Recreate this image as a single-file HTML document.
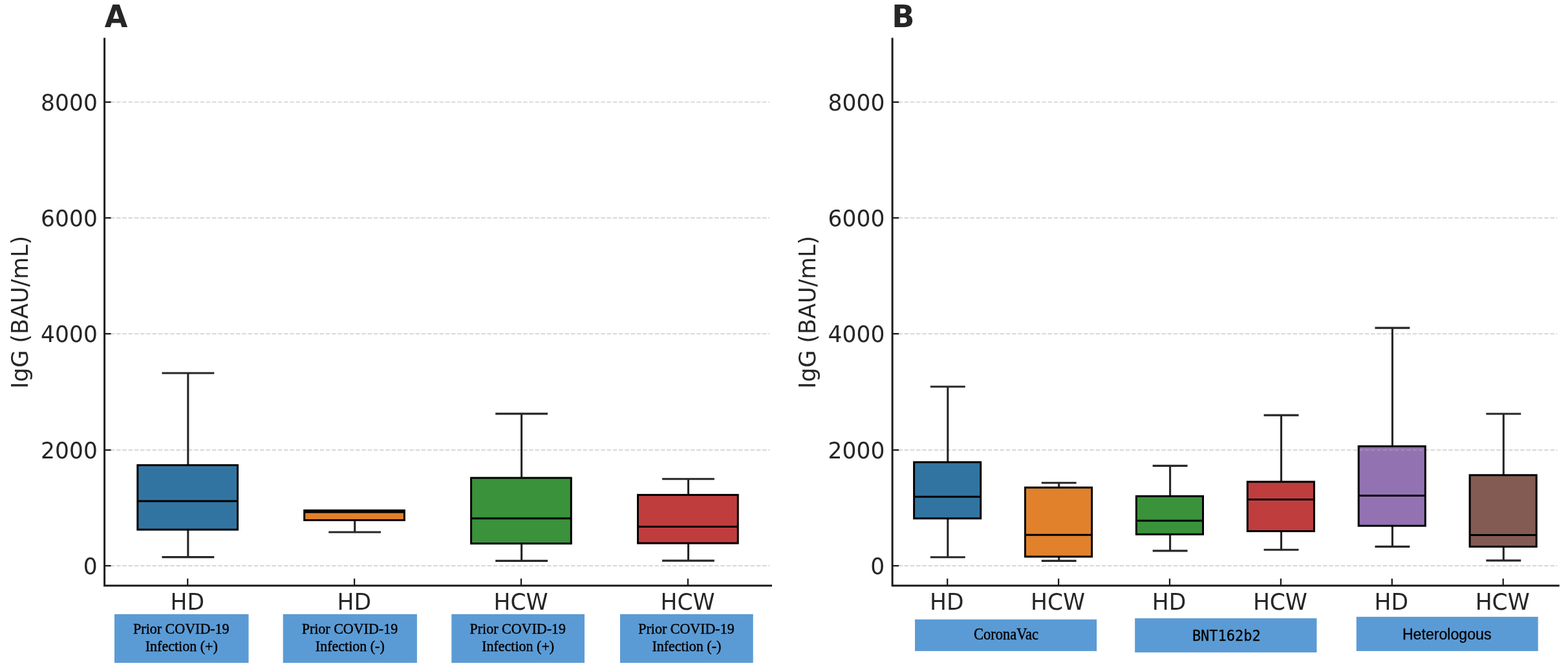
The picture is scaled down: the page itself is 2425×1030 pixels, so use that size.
<!DOCTYPE html>
<html lang="en"><head><meta charset="utf-8"><title>IgG (BAU/mL) box plots</title>
<style>html,body{margin:0;padding:0;background:#fff}body{width:2425px;height:1030px;overflow:hidden}svg{display:block}.t{font-family:"DejaVu Sans","Liberation Sans",sans-serif;fill:#262626}.s{font-family:"Liberation Serif","DejaVu Serif",serif;fill:#000}.n{font-family:"Liberation Sans","DejaVu Sans",sans-serif;fill:#000}.m{font-family:"DejaVu Sans Mono","Liberation Mono",monospace;fill:#000}</style></head><body>
<svg width="2425" height="1030" viewBox="0 0 2425 1030">
<rect width="2425" height="1030" fill="#fff"/>
<rect x="212.8" y="719.4" width="154.7" height="99.7" fill="#3274a1"/>
<rect x="470.7" y="789.4" width="154.7" height="15.1" fill="#e1812c"/>
<rect x="728.6" y="739.1" width="154.7" height="101.5" fill="#3a923a"/>
<rect x="986.5" y="765.4" width="154.7" height="74.7" fill="#c03d3e"/>
<line x1="161.6" y1="875.0" x2="1190.5" y2="875.0" stroke="#b0b0b0" stroke-opacity="0.5" stroke-width="1.9" stroke-dasharray="6.4 2.85"/>
<line x1="161.6" y1="696.0" x2="1190.5" y2="696.0" stroke="#b0b0b0" stroke-opacity="0.5" stroke-width="1.9" stroke-dasharray="6.4 2.85"/>
<line x1="161.6" y1="516.2" x2="1190.5" y2="516.2" stroke="#b0b0b0" stroke-opacity="0.5" stroke-width="1.9" stroke-dasharray="6.4 2.85"/>
<line x1="161.6" y1="337.0" x2="1190.5" y2="337.0" stroke="#b0b0b0" stroke-opacity="0.5" stroke-width="1.9" stroke-dasharray="6.4 2.85"/>
<line x1="161.6" y1="157.9" x2="1190.5" y2="157.9" stroke="#b0b0b0" stroke-opacity="0.5" stroke-width="1.9" stroke-dasharray="6.4 2.85"/>
<path d="M290.8 719.4V577.0" stroke="#262626" stroke-width="3.1" fill="none"/>
<path d="M252.0 577.0H329.7" stroke="#262626" stroke-width="3.1" fill="none" stroke-linecap="square"/>
<path d="M290.8 819.1V861.6" stroke="#262626" stroke-width="3.1" fill="none"/>
<path d="M252.0 861.6H329.7" stroke="#262626" stroke-width="3.1" fill="none" stroke-linecap="square"/>
<rect x="212.8" y="719.4" width="154.7" height="99.7" fill="none" stroke="#000" stroke-width="3"/>
<line x1="212.8" y1="774.9" x2="367.6" y2="774.9" stroke="#000" stroke-width="3"/>
<path d="M548.7 804.5V823.0" stroke="#262626" stroke-width="3.1" fill="none"/>
<path d="M509.8 823.0H587.5" stroke="#262626" stroke-width="3.1" fill="none" stroke-linecap="square"/>
<rect x="470.7" y="789.4" width="154.7" height="15.1" fill="none" stroke="#000" stroke-width="3"/>
<line x1="470.7" y1="792.0" x2="625.5" y2="792.0" stroke="#000" stroke-width="3"/>
<path d="M806.6 739.1V639.9" stroke="#262626" stroke-width="3.1" fill="none"/>
<path d="M767.8 639.9H845.5" stroke="#262626" stroke-width="3.1" fill="none" stroke-linecap="square"/>
<path d="M806.6 840.6V867.4" stroke="#262626" stroke-width="3.1" fill="none"/>
<path d="M767.8 867.4H845.5" stroke="#262626" stroke-width="3.1" fill="none" stroke-linecap="square"/>
<rect x="728.6" y="739.1" width="154.7" height="101.5" fill="none" stroke="#000" stroke-width="3"/>
<line x1="728.6" y1="801.7" x2="883.4" y2="801.7" stroke="#000" stroke-width="3"/>
<path d="M1064.5 765.4V740.8" stroke="#262626" stroke-width="3.1" fill="none"/>
<path d="M1025.6 740.8H1103.3" stroke="#262626" stroke-width="3.1" fill="none" stroke-linecap="square"/>
<path d="M1064.5 840.1V867.1" stroke="#262626" stroke-width="3.1" fill="none"/>
<path d="M1025.6 867.1H1103.3" stroke="#262626" stroke-width="3.1" fill="none" stroke-linecap="square"/>
<rect x="986.5" y="765.4" width="154.7" height="74.7" fill="none" stroke="#000" stroke-width="3"/>
<line x1="986.5" y1="814.5" x2="1141.3" y2="814.5" stroke="#000" stroke-width="3"/>
<line x1="161.6" y1="875.0" x2="171.6" y2="875.0" stroke="#1c1c1c" stroke-width="2.3"/>
<text class="t" transform="translate(150.8 887.9) scale(0.985 1)" font-size="35" text-anchor="end">0</text>
<line x1="161.6" y1="696.0" x2="171.6" y2="696.0" stroke="#1c1c1c" stroke-width="2.3"/>
<text class="t" transform="translate(150.8 708.9) scale(0.985 1)" font-size="35" text-anchor="end">2000</text>
<line x1="161.6" y1="516.2" x2="171.6" y2="516.2" stroke="#1c1c1c" stroke-width="2.3"/>
<text class="t" transform="translate(150.8 529.1) scale(0.985 1)" font-size="35" text-anchor="end">4000</text>
<line x1="161.6" y1="337.0" x2="171.6" y2="337.0" stroke="#1c1c1c" stroke-width="2.3"/>
<text class="t" transform="translate(150.8 349.9) scale(0.985 1)" font-size="35" text-anchor="end">6000</text>
<line x1="161.6" y1="157.9" x2="171.6" y2="157.9" stroke="#1c1c1c" stroke-width="2.3"/>
<text class="t" transform="translate(150.8 170.8) scale(0.985 1)" font-size="35" text-anchor="end">8000</text>
<line x1="290.2" y1="905.8" x2="290.2" y2="894.8" stroke="#1c1c1c" stroke-width="2.3"/>
<text class="t" transform="translate(289.8 943.3) scale(0.985 1)" font-size="35" text-anchor="middle">HD</text>
<line x1="548.1" y1="905.8" x2="548.1" y2="894.8" stroke="#1c1c1c" stroke-width="2.3"/>
<text class="t" transform="translate(547.7 943.3) scale(0.985 1)" font-size="35" text-anchor="middle">HD</text>
<line x1="806.0" y1="905.8" x2="806.0" y2="894.8" stroke="#1c1c1c" stroke-width="2.3"/>
<text class="t" transform="translate(805.6 943.3) scale(0.985 1)" font-size="35" text-anchor="middle">HCW</text>
<line x1="1063.9" y1="905.8" x2="1063.9" y2="894.8" stroke="#1c1c1c" stroke-width="2.3"/>
<text class="t" transform="translate(1063.5 943.3) scale(0.985 1)" font-size="35" text-anchor="middle">HCW</text>
<path d="M161.6 60.1V905.8H1192.5" stroke="#1c1c1c" stroke-width="3" fill="none" stroke-linecap="square"/>
<text class="t" transform="translate(161.8 42.2) scale(0.96 1)" font-size="48" font-weight="bold">A</text>
<text class="t" transform="translate(42.7 482.9) rotate(-90)" font-size="34.9" text-anchor="middle">IgG (BAU/mL)</text>
<rect x="1413.6" y="714.8" width="103.1" height="87.0" fill="#3274a1"/>
<rect x="1585.5" y="754.0" width="103.1" height="106.9" fill="#e1812c"/>
<rect x="1757.4" y="767.4" width="103.1" height="59.0" fill="#3a923a"/>
<rect x="1929.3" y="745.1" width="103.1" height="76.4" fill="#c03d3e"/>
<rect x="2101.2" y="690.2" width="103.1" height="123.0" fill="#9372b2"/>
<rect x="2273.1" y="734.8" width="103.1" height="110.6" fill="#845b53"/>
<line x1="1380.1" y1="875.0" x2="2408.3" y2="875.0" stroke="#b0b0b0" stroke-opacity="0.5" stroke-width="1.9" stroke-dasharray="6.4 2.85"/>
<line x1="1380.1" y1="696.0" x2="2408.3" y2="696.0" stroke="#b0b0b0" stroke-opacity="0.5" stroke-width="1.9" stroke-dasharray="6.4 2.85"/>
<line x1="1380.1" y1="516.2" x2="2408.3" y2="516.2" stroke="#b0b0b0" stroke-opacity="0.5" stroke-width="1.9" stroke-dasharray="6.4 2.85"/>
<line x1="1380.1" y1="337.0" x2="2408.3" y2="337.0" stroke="#b0b0b0" stroke-opacity="0.5" stroke-width="1.9" stroke-dasharray="6.4 2.85"/>
<line x1="1380.1" y1="157.9" x2="2408.3" y2="157.9" stroke="#b0b0b0" stroke-opacity="0.5" stroke-width="1.9" stroke-dasharray="6.4 2.85"/>
<path d="M1465.8 714.8V598.0" stroke="#262626" stroke-width="3.1" fill="none"/>
<path d="M1440.4 598.0H1491.2" stroke="#262626" stroke-width="3.1" fill="none" stroke-linecap="square"/>
<path d="M1465.8 801.8V861.8" stroke="#262626" stroke-width="3.1" fill="none"/>
<path d="M1440.4 861.8H1491.2" stroke="#262626" stroke-width="3.1" fill="none" stroke-linecap="square"/>
<rect x="1413.6" y="714.8" width="103.1" height="87.0" fill="none" stroke="#000" stroke-width="3"/>
<line x1="1413.6" y1="768.3" x2="1516.8" y2="768.3" stroke="#000" stroke-width="3"/>
<path d="M1637.7 754.0V746.8" stroke="#262626" stroke-width="3.1" fill="none"/>
<path d="M1612.3 746.8H1663.1" stroke="#262626" stroke-width="3.1" fill="none" stroke-linecap="square"/>
<path d="M1637.7 860.9V867.4" stroke="#262626" stroke-width="3.1" fill="none"/>
<path d="M1612.3 867.4H1663.1" stroke="#262626" stroke-width="3.1" fill="none" stroke-linecap="square"/>
<rect x="1585.5" y="754.0" width="103.1" height="106.9" fill="none" stroke="#000" stroke-width="3"/>
<line x1="1585.5" y1="827.3" x2="1688.7" y2="827.3" stroke="#000" stroke-width="3"/>
<path d="M1809.6 767.4V720.4" stroke="#262626" stroke-width="3.1" fill="none"/>
<path d="M1784.2 720.4H1835.0" stroke="#262626" stroke-width="3.1" fill="none" stroke-linecap="square"/>
<path d="M1809.6 826.4V851.9" stroke="#262626" stroke-width="3.1" fill="none"/>
<path d="M1784.2 851.9H1835.0" stroke="#262626" stroke-width="3.1" fill="none" stroke-linecap="square"/>
<rect x="1757.4" y="767.4" width="103.1" height="59.0" fill="none" stroke="#000" stroke-width="3"/>
<line x1="1757.4" y1="805.2" x2="1860.6" y2="805.2" stroke="#000" stroke-width="3"/>
<path d="M1981.5 745.1V642.1" stroke="#262626" stroke-width="3.1" fill="none"/>
<path d="M1956.1 642.1H2006.9" stroke="#262626" stroke-width="3.1" fill="none" stroke-linecap="square"/>
<path d="M1981.5 821.5V850.3" stroke="#262626" stroke-width="3.1" fill="none"/>
<path d="M1956.1 850.3H2006.9" stroke="#262626" stroke-width="3.1" fill="none" stroke-linecap="square"/>
<rect x="1929.3" y="745.1" width="103.1" height="76.4" fill="none" stroke="#000" stroke-width="3"/>
<line x1="1929.3" y1="772.5" x2="2032.5" y2="772.5" stroke="#000" stroke-width="3"/>
<path d="M2153.4 690.2V507.1" stroke="#262626" stroke-width="3.1" fill="none"/>
<path d="M2128.0 507.1H2178.8" stroke="#262626" stroke-width="3.1" fill="none" stroke-linecap="square"/>
<path d="M2153.4 813.2V845.4" stroke="#262626" stroke-width="3.1" fill="none"/>
<path d="M2128.0 845.4H2178.8" stroke="#262626" stroke-width="3.1" fill="none" stroke-linecap="square"/>
<rect x="2101.2" y="690.2" width="103.1" height="123.0" fill="none" stroke="#000" stroke-width="3"/>
<line x1="2101.2" y1="766.6" x2="2204.4" y2="766.6" stroke="#000" stroke-width="3"/>
<path d="M2325.3 734.8V640.0" stroke="#262626" stroke-width="3.1" fill="none"/>
<path d="M2299.9 640.0H2350.7" stroke="#262626" stroke-width="3.1" fill="none" stroke-linecap="square"/>
<path d="M2325.3 845.4V866.9" stroke="#262626" stroke-width="3.1" fill="none"/>
<path d="M2299.9 866.9H2350.7" stroke="#262626" stroke-width="3.1" fill="none" stroke-linecap="square"/>
<rect x="2273.1" y="734.8" width="103.1" height="110.6" fill="none" stroke="#000" stroke-width="3"/>
<line x1="2273.1" y1="827.5" x2="2376.3" y2="827.5" stroke="#000" stroke-width="3"/>
<line x1="1380.1" y1="875.0" x2="1390.1" y2="875.0" stroke="#1c1c1c" stroke-width="2.3"/>
<text class="t" transform="translate(1368.3 887.9) scale(0.985 1)" font-size="35" text-anchor="end">0</text>
<line x1="1380.1" y1="696.0" x2="1390.1" y2="696.0" stroke="#1c1c1c" stroke-width="2.3"/>
<text class="t" transform="translate(1368.3 708.9) scale(0.985 1)" font-size="35" text-anchor="end">2000</text>
<line x1="1380.1" y1="516.2" x2="1390.1" y2="516.2" stroke="#1c1c1c" stroke-width="2.3"/>
<text class="t" transform="translate(1368.3 529.1) scale(0.985 1)" font-size="35" text-anchor="end">4000</text>
<line x1="1380.1" y1="337.0" x2="1390.1" y2="337.0" stroke="#1c1c1c" stroke-width="2.3"/>
<text class="t" transform="translate(1368.3 349.9) scale(0.985 1)" font-size="35" text-anchor="end">6000</text>
<line x1="1380.1" y1="157.9" x2="1390.1" y2="157.9" stroke="#1c1c1c" stroke-width="2.3"/>
<text class="t" transform="translate(1368.3 170.8) scale(0.985 1)" font-size="35" text-anchor="end">8000</text>
<line x1="1465.2" y1="905.8" x2="1465.2" y2="894.8" stroke="#1c1c1c" stroke-width="2.3"/>
<text class="t" transform="translate(1464.2 943.3) scale(0.985 1)" font-size="35" text-anchor="middle">HD</text>
<line x1="1637.1" y1="905.8" x2="1637.1" y2="894.8" stroke="#1c1c1c" stroke-width="2.3"/>
<text class="t" transform="translate(1636.1 943.3) scale(0.985 1)" font-size="35" text-anchor="middle">HCW</text>
<line x1="1809.0" y1="905.8" x2="1809.0" y2="894.8" stroke="#1c1c1c" stroke-width="2.3"/>
<text class="t" transform="translate(1808.0 943.3) scale(0.985 1)" font-size="35" text-anchor="middle">HD</text>
<line x1="1980.9" y1="905.8" x2="1980.9" y2="894.8" stroke="#1c1c1c" stroke-width="2.3"/>
<text class="t" transform="translate(1979.9 943.3) scale(0.985 1)" font-size="35" text-anchor="middle">HCW</text>
<line x1="2152.8" y1="905.8" x2="2152.8" y2="894.8" stroke="#1c1c1c" stroke-width="2.3"/>
<text class="t" transform="translate(2151.8 943.3) scale(0.985 1)" font-size="35" text-anchor="middle">HD</text>
<line x1="2324.7" y1="905.8" x2="2324.7" y2="894.8" stroke="#1c1c1c" stroke-width="2.3"/>
<text class="t" transform="translate(2323.7 943.3) scale(0.985 1)" font-size="35" text-anchor="middle">HCW</text>
<path d="M1380.1 60.1V905.8H2410.3" stroke="#1c1c1c" stroke-width="3" fill="none" stroke-linecap="square"/>
<text class="t" transform="translate(1379.2 42.2) scale(0.96 1)" font-size="48" font-weight="bold">B</text>
<text class="t" transform="translate(1260.6 482.9) rotate(-90)" font-size="34.9" text-anchor="middle">IgG (BAU/mL)</text>
<rect x="177.0" y="949.8" width="207.5" height="75.4" fill="#5b9bd5"/>
<text class="s" transform="translate(280.35 980.30) scale(0.9170 1)" font-size="24" text-anchor="middle" stroke="#000" stroke-width="0.45">Prior COVID-19</text>
<text class="s" transform="translate(280.75 1006.70) scale(0.9170 1)" font-size="24" text-anchor="middle" stroke="#000" stroke-width="0.45">Infection (+)</text>
<rect x="437.7" y="949.8" width="207.2" height="75.4" fill="#5b9bd5"/>
<text class="s" transform="translate(540.90 980.30) scale(0.9170 1)" font-size="24" text-anchor="middle" stroke="#000" stroke-width="0.45">Prior COVID-19</text>
<text class="s" transform="translate(541.30 1006.70) scale(0.9170 1)" font-size="24" text-anchor="middle" stroke="#000" stroke-width="0.45">Infection (-)</text>
<rect x="698.3" y="949.8" width="205.7" height="75.4" fill="#5b9bd5"/>
<text class="s" transform="translate(800.75 980.30) scale(0.9170 1)" font-size="24" text-anchor="middle" stroke="#000" stroke-width="0.45">Prior COVID-19</text>
<text class="s" transform="translate(801.15 1006.70) scale(0.9170 1)" font-size="24" text-anchor="middle" stroke="#000" stroke-width="0.45">Infection (+)</text>
<rect x="959.0" y="949.8" width="205.7" height="75.4" fill="#5b9bd5"/>
<text class="s" transform="translate(1061.45 980.30) scale(0.9170 1)" font-size="24" text-anchor="middle" stroke="#000" stroke-width="0.45">Prior COVID-19</text>
<text class="s" transform="translate(1061.85 1006.70) scale(0.9170 1)" font-size="24" text-anchor="middle" stroke="#000" stroke-width="0.45">Infection (-)</text>
<rect x="1415.0" y="958.0" width="281.1" height="48.9" fill="#5b9bd5"/>
<text class="s" transform="translate(1556.00 988.60) scale(0.9250 1)" font-size="24.3" text-anchor="middle" stroke="#000" stroke-width="0.45">CoronaVac</text>
<rect x="1755.2" y="956.2" width="281.2" height="52.8" fill="#5b9bd5"/>
<text class="m" transform="translate(1896.80 990.70) scale(0.9600 1)" font-size="22.9" text-anchor="middle" stroke="#000" stroke-width="0.3">BNT162b2</text>
<rect x="2097.7" y="953.9" width="281.0" height="53.0" fill="#5b9bd5"/>
<text class="n" transform="translate(2237.70 988.80) scale(0.9850 1)" font-size="23.5" text-anchor="middle" stroke="#000" stroke-width="0.3">Heterologous</text>
</svg></body></html>
